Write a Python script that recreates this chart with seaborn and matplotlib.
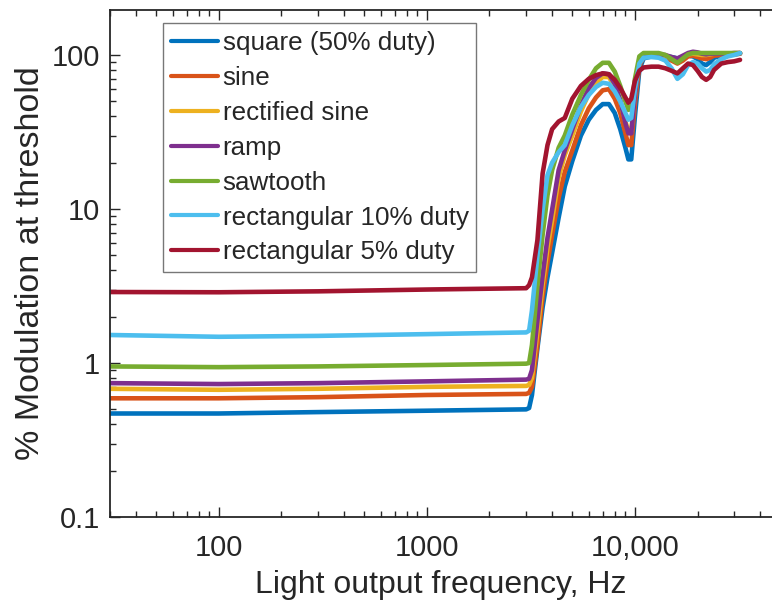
import numpy as np
import pandas as pd
import matplotlib
matplotlib.use("Agg")
import matplotlib.pyplot as plt
import matplotlib.ticker as mticker
import seaborn as sns

# ---------------- data ----------------
freq_hz = [30, 100, 300, 1000, 3000, 3100, 3200, 3400, 3600, 3800, 4000,
           4300, 4600, 5000, 5500, 6000, 6500, 7000, 7500, 8000, 8500,
           9000, 9300, 9600, 10000, 10500, 11000, 12000, 13000, 14000,
           15000, 16000, 17000, 18000, 19000, 20000, 21000, 22000, 23000,
           24000, 26000, 28000, 30000, 32000]

square_50 = [0.47, 0.47, 0.48, 0.49, 0.50, 0.51, 0.62, 1.25, 2.3, 3.6, 5.2,
             8.8, 14, 20.5, 30, 38, 44, 48, 48, 42, 33,
             25, 21, 21, 40, 80, 95, 98, 98, 98,
             97, 95, 97, 99, 98, 94, 88, 86, 90,
             96, 99, 100, 101, 102]
sine = [0.59, 0.59, 0.60, 0.62, 0.63, 0.64, 0.70, 1.31, 2.7, 4.5, 6.8,
        11.8, 17.4, 24, 35, 45, 53, 59, 60, 52, 42,
        31, 26, 26, 48, 85, 97, 98, 98, 96,
        92, 88, 92, 98, 99, 97, 95, 94, 96,
        99, 100, 101, 101, 102]
rectified_sine = [0.68, 0.67, 0.68, 0.70, 0.71, 0.72, 0.80, 1.6, 3.2, 5.6, 8.5,
                  16, 22.4, 30, 43, 56, 66, 72, 72, 62, 50,
                  37, 32, 32, 55, 90, 100, 101, 101, 99,
                  96, 94, 97, 101, 102, 101, 100, 100, 101,
                  102, 102, 102, 102, 103]
ramp = [0.74, 0.73, 0.74, 0.76, 0.78, 0.79, 0.90, 1.9, 3.7, 6.5, 9.9,
        17.9, 24, 33, 47, 61, 71, 76, 75, 65, 51,
        36, 31, 31, 55, 92, 101, 101, 101, 100,
        97, 95, 99, 103, 105, 104, 102, 101, 102,
        102, 102, 102, 103, 103]
sawtooth = [0.95, 0.94, 0.95, 0.97, 0.99, 1.0, 1.31, 3.2, 6.8, 12.3, 17.9,
            25, 30, 41, 55, 69, 82, 89, 89, 78, 63,
            50, 44, 45, 70, 98, 103, 103, 103, 100,
            94, 89, 95, 101, 103, 103, 103, 103, 103,
            103, 103, 103, 103, 103]
rect_10 = [1.52, 1.48, 1.50, 1.54, 1.58, 1.62, 2.2, 5.0, 9.9, 16.6, 20,
           23.4, 26, 35, 46, 55, 62, 66, 65, 58, 50,
           42, 38, 39, 60, 88, 96, 97, 96, 92,
           82, 70, 75, 86, 90, 88, 82, 78, 80,
           87, 94, 98, 100, 103]
rect_5 = [2.89, 2.88, 2.92, 3.0, 3.06, 3.2, 3.6, 6.3, 17, 26, 33,
          37, 39, 52, 63, 70, 74, 76, 75, 69, 61,
          53, 49, 52, 68, 79, 83, 84, 84, 82,
          79, 76, 82, 88, 86, 79, 72, 69, 72,
          80, 88, 90, 91, 93]

series_names = ["square (50% duty)", "sine", "rectified sine", "ramp",
                "sawtooth", "rectangular 10% duty", "rectangular 5% duty"]
series_values = [square_50, sine, rectified_sine, ramp, sawtooth, rect_10, rect_5]
palette = ["#0072BD", "#D95319", "#EDB120", "#7E2F8E", "#77AC30", "#4DBEEE", "#A2142F"]

x_tick_vals = [100, 1000, 10000]
x_tick_labels = ["100", "1000", "10,000"]
y_tick_vals = [0.1, 1, 10, 100]
y_tick_labels = ["0.1", "1", "10", "100"]

# ---------------- build frame ----------------
rows = []
for name, vals in zip(series_names, series_values):
    for f, v in zip(freq_hz, vals):
        rows.append({"freq": f, "mod": v, "wave": name})
df = pd.DataFrame(rows)

# ---------------- style ----------------
sns.set_style("white")
plt.rcParams["font.family"] = ["Liberation Sans", "DejaVu Sans"]
txt = "#262626"

fig = plt.figure(figsize=(7.72, 6.09), dpi=100)
ax = fig.add_axes([110 / 772, 92 / 609, 662 / 772, 507 / 609])

sns.lineplot(data=df, x="freq", y="mod", hue="wave", hue_order=series_names,
             palette=palette, estimator=None, sort=False, linewidth=3.3,
             ax=ax, legend=True)

ax.set_xscale("log")
ax.set_yscale("log")
ax.set_xlim(30, 45580)
ax.set_ylim(0.1, 196)

ax.xaxis.set_major_locator(mticker.FixedLocator(x_tick_vals))
ax.xaxis.set_major_formatter(mticker.FixedFormatter(x_tick_labels))
ax.yaxis.set_major_locator(mticker.FixedLocator(y_tick_vals))
ax.yaxis.set_major_formatter(mticker.FixedFormatter(y_tick_labels))
ax.xaxis.set_minor_locator(mticker.LogLocator(base=10, subs=np.arange(2, 10), numticks=20))
ax.yaxis.set_minor_locator(mticker.LogLocator(base=10, subs=np.arange(2, 10), numticks=20))
ax.xaxis.set_minor_formatter(mticker.NullFormatter())
ax.yaxis.set_minor_formatter(mticker.NullFormatter())

ax.tick_params(which="both", direction="in", top=True, right=False,
               left=True, bottom=True, color=txt, width=1.0)
ax.tick_params(which="major", length=7, labelsize=21, labelcolor=txt)
ax.tick_params(axis="x", which="major", pad=12)
ax.tick_params(axis="y", which="major", pad=7)
ax.tick_params(which="minor", length=4)

for side in ["left", "bottom", "top"]:
    ax.spines[side].set_color(txt)
    ax.spines[side].set_linewidth(1.3)
ax.spines["right"].set_visible(False)

ax.set_xlabel("Light output frequency, Hz", fontsize=23, color=txt, labelpad=6)
ax.set_ylabel("% Modulation at threshold", fontsize=24.5, color=txt, labelpad=4)

handles, labels = ax.get_legend_handles_labels()
leg = ax.legend(handles, labels, loc="upper left", bbox_to_anchor=(0.080, 0.974),
                borderaxespad=0, fontsize=18.7, frameon=True, fancybox=False,
                handlelength=1.8, handletextpad=0.2, labelspacing=0.42,
                borderpad=0.3)
leg.get_frame().set_edgecolor("#555555")
leg.get_frame().set_linewidth(1.0)
for h in leg.get_lines():
    h.set_linewidth(3.0)
for t in leg.get_texts():
    t.set_color(txt)

fig.savefig("out.png", dpi=100)
